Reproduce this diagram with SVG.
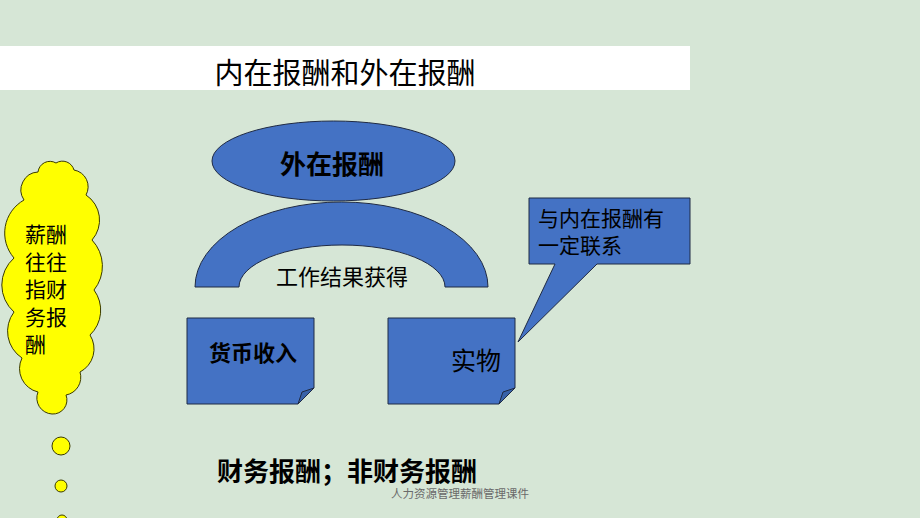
<svg xmlns="http://www.w3.org/2000/svg" width="920" height="518" viewBox="0 0 920 518">
<defs>
<style>
text{font-family:"Liberation Sans","Noto Sans CJK SC",sans-serif;fill:#000}
.blue{fill:#4472C4;stroke:#1f2a44;stroke-width:1}
.b{font-weight:bold}
.yel{fill:#ffff00;stroke:#3a3a00;stroke-width:1}
</style>
</defs>
<rect width="920" height="518" fill="#d6e6d6"/>
<g id="title">
<rect x="0" y="46" width="690" height="44" fill="#ffffff"/>
<text x="345" y="84" font-size="29" text-anchor="middle">内在报酬和外在报酬</text>
</g>
<g id="connectors"/>
<g id="extrinsic">
<ellipse class="blue" cx="333.5" cy="161" rx="121.5" ry="40"/>
<text class="b" x="332" y="174" font-size="26" text-anchor="middle">外在报酬</text>
</g>
<g id="arch">
<path class="blue" d="M195,287 A146.5,85 0 0 1 488,287 H445 A103,42 0 0 0 239,287 Z"/>
<text x="342" y="285" font-size="22" text-anchor="middle">工作结果获得</text>
</g>
<g id="money">
<path class="blue" d="M187,318 H314 V388 L298,404 H187 Z"/>
<path d="M298,404 L302,392 L314,388 Z" fill="#3862a8" stroke="#1f2a44" stroke-width="1"/>
<text class="b" x="253" y="361" font-size="22" text-anchor="middle">货币收入</text>
</g>
<g id="goods">
<path class="blue" d="M388,318 H515 V388 L499,404 H388 Z"/>
<path d="M499,404 L503,392 L515,388 Z" fill="#3862a8" stroke="#1f2a44" stroke-width="1"/>
<text x="476" y="370" font-size="25" text-anchor="middle">实物</text>
</g>
<g id="callout">
<path class="blue" d="M529,198 H690 V264 H597 L518,342 L555,264 H529 Z"/>
<text x="538" y="226" font-size="21">与内在报酬有</text>
<text x="538" y="253" font-size="21">一定联系</text>
</g>
<g id="cloud">
<path class="yel" d="M24,200 A18,18 0 0 1 38,172 A12,12 0 0 1 56,163 A12,12 0 0 1 74,170 A17,17 0 0 1 86,195 A30,30 0 0 1 92,240 A38,38 0 0 1 94,290 A34,34 0 0 1 90,335 A26,26 0 0 1 80,372 A18,18 0 0 1 66,395 A14,14 0 0 1 52,414 A16,16 0 0 1 38,392 A24,24 0 0 1 22,358 A32,32 0 0 1 14,312 A36,36 0 0 1 14,258 A38,38 0 0 1 24,200 Z"/>
<text x="25" y="242" font-size="21">薪酬</text>
<text x="25" y="270" font-size="21">往往</text>
<text x="25" y="297" font-size="21">指财</text>
<text x="25" y="325" font-size="21">务报</text>
<text x="25" y="352" font-size="21">酬</text>
</g>
<g id="bubbles">
<circle class="yel" cx="61" cy="446" r="9"/>
<circle class="yel" cx="61" cy="486" r="6"/>
<circle class="yel" cx="62" cy="520" r="5"/>
</g>
<g id="summary">
<text class="b" x="217" y="481" font-size="26">财务报酬；非财务报酬</text>
</g>
<g id="footer">
<text x="460" y="498" font-size="11.5" text-anchor="middle" style="fill:#6a6a6a">人力资源管理薪酬管理课件</text>
</g>
</svg>
